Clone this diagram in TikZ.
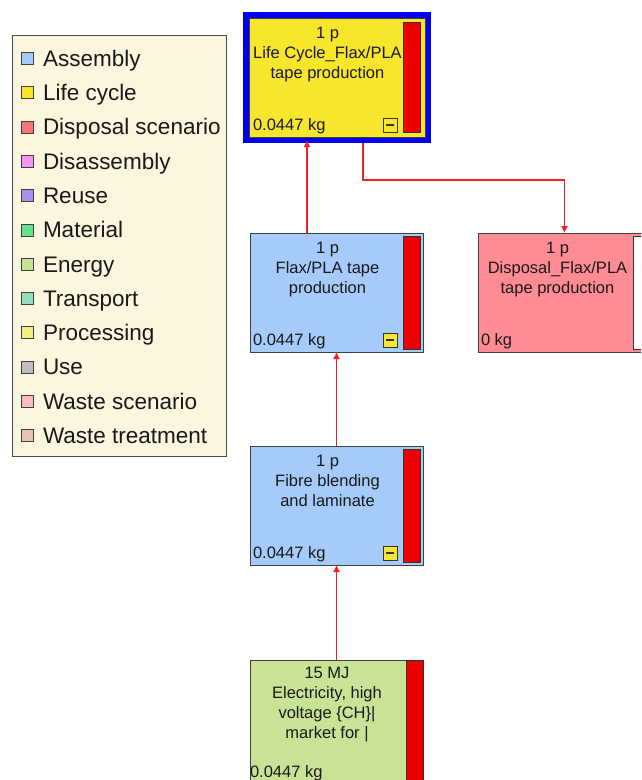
\documentclass[tikz,border=0pt]{standalone}
\usepackage{fontspec}
\setmainfont{Liberation Sans}
\usepackage{xcolor}
\usepackage{tikz}
\usetikzlibrary{positioning}
\usetikzlibrary{arrows,arrows.meta}
\definecolor{linkred}{RGB}{250,30,30}
\definecolor{barred}{RGB}{238,0,0}
\definecolor{frameblue}{RGB}{0,0,240}
\definecolor{asmblue}{RGB}{164,203,250}
\definecolor{lcyellow}{RGB}{248,230,45}
\definecolor{dispred}{RGB}{255,140,148}
\definecolor{enggreen}{RGB}{200,226,150}
\definecolor{legbg}{RGB}{253,246,222}
\definecolor{cdisasm}{RGB}{245,150,245}
\definecolor{creuse}{RGB}{165,145,235}
\definecolor{cmat}{RGB}{100,225,145}
\definecolor{ctrans}{RGB}{150,220,190}
\definecolor{cproc}{RGB}{240,240,130}
\definecolor{cuse}{RGB}{190,190,190}
\definecolor{cwaste}{RGB}{255,185,195}
\definecolor{cwtreat}{RGB}{230,195,180}
\definecolor{cdisp}{RGB}{245,120,120}
\tikzstyle{flowline} = [draw, line width=1.2pt, color=linkred, -{Latex[length=7pt,width=7pt]}]
\newcommand\boxfont{\fontsize{16.5}{20}\selectfont}
\newcommand\legfont{\fontsize{22.5}{28}\selectfont}

\begin{document}
\begin{tikzpicture}[x=1pt,y=-1pt,node distance=22.3pt,outer sep=0pt,
procb/.style={
  draw=black!75,
  line width=1pt,
  minimum width=173pt,
  minimum height=119pt,
  inner sep=0pt,
  anchor=north west},
redbar/.style={
  draw=black!80,
  fill=barred,
  line width=0.8pt,
  minimum width=17pt,
  minimum height=113pt,
  inner sep=0pt,
  anchor=north east},
minb/.style={
  draw=black!80,
  fill=lcyellow,
  line width=0.8pt,
  minimum size=14pt,
  inner sep=0pt,
  anchor=south east,
  path picture={\draw[line width=1.3pt] ([xshift=3pt]path picture bounding box.west) -- ([xshift=-3pt]path picture bounding box.east);}},
boxtxt/.style={font=\boxfont, align=center, inner sep=0pt, anchor=north, text=black!90},
kgtxt/.style={font=\boxfont, inner sep=0pt, anchor=base west, text=black!90},
swatch/.style={draw=black!75, line width=0.9pt, minimum size=12pt, inner sep=0pt},
legtxt/.style={font=\legfont, inner sep=0pt, anchor=west, text=black!90, text height=16.5pt, text depth=1pt},
]
\useasboundingbox (0,0) rectangle (641,780);
\clip (0,0) rectangle (641,780);

% legend
\node[draw=black!70, fill=legbg, line width=1pt, minimum width=214pt, minimum height=421pt, anchor=north west] (legend) at (12,35) {};
\node[swatch, fill=asmblue] (sqasm) at ([shift={(15,23.5)}]legend.north west) {};
\node[legtxt, right=10pt of sqasm] (tasm) {Assembly};
\node[swatch, fill=lcyellow, below=of sqasm] (sqlife) {};
\node[legtxt, right=10pt of sqlife] (tlife) {Life cycle};
\node[swatch, fill=cdisp, below=of sqlife] (sqdisp) {};
\node[legtxt, right=10pt of sqdisp] (tdisp) {Disposal scenario};
\node[swatch, fill=cdisasm, below=of sqdisp] (sqdisasm) {};
\node[legtxt, right=10pt of sqdisasm] (tdisasm) {Disassembly};
\node[swatch, fill=creuse, below=of sqdisasm] (sqreuse) {};
\node[legtxt, right=10pt of sqreuse] (treuse) {Reuse};
\node[swatch, fill=cmat, below=of sqreuse] (sqmat) {};
\node[legtxt, right=10pt of sqmat] (tmat) {Material};
\node[swatch, fill=enggreen, below=of sqmat] (sqeng) {};
\node[legtxt, right=10pt of sqeng] (teng) {Energy};
\node[swatch, fill=ctrans, below=of sqeng] (sqtrans) {};
\node[legtxt, right=10pt of sqtrans] (ttrans) {Transport};
\node[swatch, fill=cproc, below=of sqtrans] (sqproc) {};
\node[legtxt, right=10pt of sqproc] (tproc) {Processing};
\node[swatch, fill=cuse, below=of sqproc] (squse) {};
\node[legtxt, right=10pt of squse] (tuse) {Use};
\node[swatch, fill=cwaste, below=of squse] (sqwaste) {};
\node[legtxt, right=10pt of sqwaste] (twaste) {Waste scenario};
\node[swatch, fill=cwtreat, below=of sqwaste] (sqwtreat) {};
\node[legtxt, right=10pt of sqwtreat] (twtreat) {Waste treatment};

% life cycle box
\node[procb, draw=frameblue, line width=6pt, fill=lcyellow, minimum width=182pt, minimum height=125pt] (lc) at (246,15) {};
\draw[black!75, line width=0.8pt] ([shift={(3,3)}]lc.north west) rectangle ([shift={(-3,-3)}]lc.south east);
\node[redbar, minimum height=110pt] (lcbar) at ([shift={(-8,7)}]lc.north east) {};
\node[minb] (lcmin) at ([shift={(-31,-8)}]lc.south east) {};
\node[boxtxt] (lctxt) at ([shift={(81.5,12)}]lc.north west) {1 p\\Life Cycle\_Flax/PLA\\tape production};
\node[kgtxt] (lckg) at ([shift={(7,-10)}]lc.south west) {0.0447 kg};

% flax/pla tape box
\node[procb, fill=asmblue] (flax) at (250,233) {};
\node[redbar] (flaxbar) at ([shift={(-3,3)}]flax.north east) {};
\node[minb] (flaxmin) at ([shift={(-26,-5)}]flax.south east) {};
\node[boxtxt] (flaxtxt) at ([shift={(77.5,9)}]flax.north west) {1 p\\Flax/PLA tape\\production};
\node[kgtxt] (flaxkg) at ([shift={(3,-7)}]flax.south west) {0.0447 kg};

% disposal box
\node[procb, fill=dispred] (disp) at (478,233) {};
\node[redbar, fill=white, anchor=north west] (dispbar) at ([shift={(155,3)}]disp.north west) {};
\node[boxtxt] (disptxt) at ([shift={(79.5,9)}]disp.north west) {1 p\\Disposal\_Flax/PLA\\tape production};
\node[kgtxt] (dispkg) at ([shift={(3,-7)}]disp.south west) {0 kg};

% fibre box
\node[procb, fill=asmblue] (fib) at (250,446) {};
\node[redbar] (fibbar) at ([shift={(-3,3)}]fib.north east) {};
\node[minb] (fibmin) at ([shift={(-26,-5)}]fib.south east) {};
\node[boxtxt] (fibtxt) at ([shift={(77.5,9)}]fib.north west) {1 p\\Fibre blending\\and laminate};
\node[kgtxt] (fibkg) at ([shift={(3,-7)}]fib.south west) {0.0447 kg};

% electricity box
\node[procb, fill=enggreen, minimum height=140pt] (elec) at (250,660) {};
\node[redbar, minimum height=140pt] (elecbar) at (elec.north east) {};
\node[boxtxt] (electxt) at ([shift={(77,7)}]elec.north west) {15 MJ\\Electricity, high\\voltage \{CH\}|\\market for |};
\node[kgtxt] (eleckg) at ([shift={(0,117)}]elec.north west) {0.0447 kg};

% links
\coordinate (lcin) at ([xshift=-30pt]lc.south);
\coordinate (lcout) at ([xshift=26pt]lc.south);
\path [flowline] (flax.north -| lcin) -- (lcin);
\path [flowline] ([yshift=-3pt]lcout) -- ++(0,37) -| (disp.north);
\path [flowline] (fib.north) -- (flax.south);
\path [flowline] (elec.north) -- (fib.south);
\end{tikzpicture}
\end{document}
